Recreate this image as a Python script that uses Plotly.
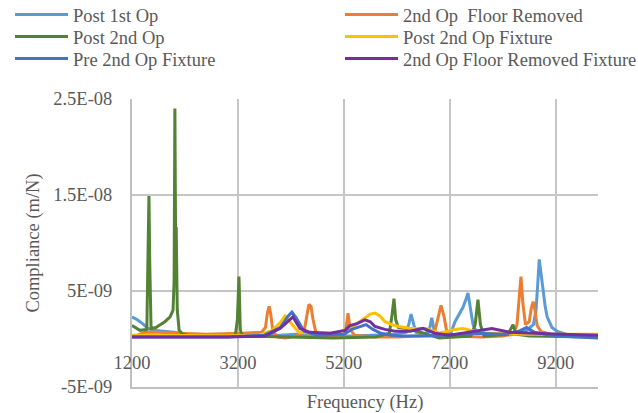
import plotly.graph_objects as go

# Frequency (Hz) and compliance values (in units of 1E-09 m/N)
F_POST1 = [1200, 1300, 1400, 1500, 1600, 1800, 2000, 2200, 2600, 3000, 3600, 4000, 4300, 4600, 5000, 5400,
           5800, 6200, 6380, 6430, 6470, 6510, 6560, 6700, 6810, 6860, 6910, 7000, 7200, 7300, 7390, 7450,
           7510, 7545, 7590, 7640, 7700, 8000, 8400, 8650, 8780, 8830, 8865, 8890, 8920, 8960, 9000, 9040,
           9130, 9230, 9400, 9700, 10000]
C_POST1 = [2.3, 2.0, 1.6, 1.1, 0.9, 0.8, 0.7, 0.5, 0.35, 0.3, 0.3, 0.4, 0.5, 0.4, 0.3, 0.3,
           0.4, 0.5, 0.7, 1.6, 2.6, 1.6, 0.7, 0.5, 0.8, 2.2, 0.8, 0.4, 0.3, 1.8, 2.8, 3.3,
           4.2, 4.8, 3.2, 1.5, 0.8, 0.4, 0.5, 0.9, 1.5, 3.0, 6.0, 8.3, 7.0, 5.0, 3.5, 2.3,
           1.2, 0.8, 0.5, 0.4, 0.35]

F_FLOOR = [1200, 1300, 1450, 1700, 2100, 2600, 3300, 3650, 3720, 3760, 3790, 3820, 3860, 3950, 4100, 4300,
           4450, 4500, 4540, 4580, 4620, 4680, 4800, 5100, 5230, 5280, 5320, 5400, 5800, 6200, 6600, 6900,
           6970, 7035, 7090, 7150, 7300, 7800, 8200, 8400, 8470, 8510, 8545, 8580, 8630, 8700, 8740, 8775,
           8810, 8850, 8920, 9100, 9500, 10000]
C_FLOOR = [0.3, 0.4, 0.7, 0.7, 0.6, 0.5, 0.6, 0.7, 1.2, 2.8, 3.4, 2.6, 0.8, 0.2, 0.1, 0.3,
           0.8, 2.5, 3.6, 3.4, 2.0, 0.5, 0.3, 0.3, 0.6, 2.7, 1.0, 0.4, 0.2, 0.2, 0.3, 0.4,
           2.0, 3.5, 2.4, 0.6, 0.3, 0.2, 0.3, 0.5, 1.5, 3.8, 6.5, 3.8, 1.5, 1.8, 3.2, 3.9,
           3.0, 1.4, 0.8, 0.5, 0.4, 0.3]

F_POST2 = [1200, 1350, 1480, 1505, 1520, 1535, 1560, 1650, 1820, 1920, 1975, 1995, 2010, 2022, 2035, 2055,
           2090, 2160, 2300, 3150, 3190, 3220, 3245, 3280, 4000, 5000, 5800, 6060, 6110, 6147, 6180, 6230,
           6400, 6600, 7000, 7600, 7680, 7733, 7780, 7850, 8300, 8395, 8450, 8700, 10000]
C_POST2 = [1.4, 0.9, 1.0, 8.0, 14.9, 8.0, 1.1, 1.2, 1.8, 2.3, 3.0, 6.0, 24.0, 11.5, 11.5, 3.0,
           0.9, 0.5, 0.3, 0.3, 2.0, 6.5, 1.0, 0.3, 0.2, 0.1, 0.2, 0.6, 2.5, 4.2, 2.0, 1.2,
           1.1, 0.8, 0.1, 0.3, 1.5, 4.1, 1.5, 0.3, 0.5, 1.5, 0.5, 0.3, 0.2]

F_POST2FIX = [1200, 2000, 3000, 3600, 3850, 4000, 4090, 4180, 4350, 4600, 5000, 5200, 5400, 5550, 5700, 5790,
              5880, 5980, 6150, 6450, 6750, 7000, 7300, 7450, 7600, 7900, 8200, 8600, 9000, 9400, 10000]
C_POST2FIX = [0.4, 0.35, 0.35, 0.4, 0.9, 1.7, 2.4, 1.8, 0.7, 0.6, 0.6, 0.9, 1.4, 2.0, 2.6, 2.7,
              2.4, 1.8, 1.4, 1.1, 1.1, 0.6, 1.0, 1.1, 0.9, 0.6, 0.6, 0.5, 0.5, 0.5, 0.5]

F_PRE2FIX = [1200, 2000, 3000, 3700, 4000, 4150, 4220, 4300, 4450, 4700, 5200, 5350, 5500, 5620, 5750, 5900,
             6100, 6300, 6800, 7300, 7700, 8200, 8500, 8650, 8800, 9200, 10000]
C_PRE2FIX = [0.2, 0.2, 0.2, 0.4, 1.2, 2.4, 2.8, 2.2, 0.8, 0.4, 0.5, 1.0, 1.3, 1.5, 1.0, 0.6,
             0.4, 0.3, 0.3, 0.5, 0.6, 0.5, 0.8, 1.2, 0.7, 0.3, 0.1]

F_FLOORFIX = [1200, 2000, 3000, 3710, 3995, 4120, 4240, 4372, 4561, 4939, 5222, 5317, 5450, 5600, 5700, 5788,
              5977, 6166, 6450, 6694, 6920, 7200, 7583, 7800, 7996, 8337, 8715, 9280, 10000]
C_FLOORFIX = [0.2, 0.2, 0.2, 0.3, 1.1, 1.7, 2.3, 1.1, 0.7, 0.6, 0.9, 1.4, 1.6, 2.0, 1.8, 1.3,
              1.0, 0.8, 0.8, 1.1, 0.6, 0.4, 0.7, 0.9, 1.1, 0.7, 0.6, 0.5, 0.4]

SERIES_NAMES = ["Post 1st Op", "2nd Op  Floor Removed", "Post 2nd Op", "Post 2nd Op Fixture",
                "Pre 2nd Op Fixture", "2nd Op Floor Removed Fixture"]
SERIES_F = [F_POST1, F_FLOOR, F_POST2, F_POST2FIX, F_PRE2FIX, F_FLOORFIX]
SERIES_C = [C_POST1, C_FLOOR, C_POST2, C_POST2FIX, C_PRE2FIX, C_FLOORFIX]
SERIES_COLORS = ["#5B9BD5", "#ED7D31", "#548235", "#FFC000", "#4472C4", "#7030A0"]

X_TICKS = [1200, 3200, 5200, 7200, 9200]
X_TICK_LABELS = ["1200", "3200", "5200", "7200", "9200"]
Y_TICKS = [-5, 5, 15, 25]
Y_TICK_LABELS = ["-5E-09", "5E-09", "1.5E-08", "2.5E-08"]
X_RANGE = [1200, 10000]
Y_RANGE = [-5, 25]

FONT = "Liberation Serif, Times New Roman, serif"
FS = 18.5
TXT = "#595959"
GRID = "#c6c6c6"

W, H = 638, 413
ML, MR, MT, MB = 132, 40, 99, 26

# legend slot positions (pixels): two columns, three rows, filled row by row
LEG_COL_X = [10, 340]
LEG_ROW_Y = [15, 37, 59]

fig = go.Figure()
layout_legends = {}
for i, (name, fx, cy, color) in enumerate(zip(SERIES_NAMES, SERIES_F, SERIES_C, SERIES_COLORS)):
    lid = "legend" if i == 0 else f"legend{i + 1}"
    fig.add_trace(go.Scatter(x=fx, y=cy, name=name, mode="lines",
                             line=dict(color=color, width=3), legend=lid))
    layout_legends[lid] = dict(
        xref="container", yref="container",
        x=LEG_COL_X[i % 2] / W, y=1 - LEG_ROW_Y[i // 2] / H,
        xanchor="left", yanchor="middle", orientation="h", itemwidth=53,
        bgcolor="rgba(0,0,0,0)", borderwidth=0,
        font=dict(family=FONT, size=FS, color=TXT))

# invisible helper trace so the label axis (x2) is rendered
fig.add_trace(go.Scatter(x=[X_RANGE[0]], y=[0], xaxis="x2", showlegend=False,
                         hoverinfo="skip", mode="markers", marker=dict(opacity=0, size=1)))

x2_pos = (0 - Y_RANGE[0]) / (Y_RANGE[1] - Y_RANGE[0])

fig.update_layout(
    width=W, height=H,
    margin=dict(l=ML, r=MR, t=MT, b=MB),
    paper_bgcolor="white", plot_bgcolor="white",
    font=dict(family=FONT, size=FS, color=TXT),
    xaxis=dict(range=X_RANGE, autorange=False, tickvals=X_TICKS, showticklabels=False, showgrid=True,
               gridcolor=GRID, gridwidth=1.5, showline=True, linecolor="#bfbfbf", linewidth=2,
               zeroline=False, ticks="", automargin=False,
               title=dict(text="Frequency (Hz)", standoff=7, font=dict(size=FS, color=TXT))),
    xaxis2=dict(overlaying="x", anchor="free", position=x2_pos, range=X_RANGE, autorange=False,
                tickvals=X_TICKS, ticktext=X_TICK_LABELS, showgrid=False, showline=False,
                zeroline=False, ticks="", ticklabelstandoff=10, side="bottom", automargin=False,
                tickfont=dict(family=FONT, size=FS, color=TXT)),
    yaxis=dict(range=Y_RANGE, autorange=False, tickvals=Y_TICKS, ticktext=Y_TICK_LABELS, showgrid=True,
               gridcolor=GRID, gridwidth=1.5, showline=True, linecolor="#bfbfbf", linewidth=2,
               zeroline=False, ticks="", ticklabelstandoff=14, automargin=False,
               tickfont=dict(family=FONT, size=FS, color=TXT),
               title=dict(text="Compliance (m/N)", standoff=9, font=dict(size=FS, color=TXT))),
    showlegend=True,
    **layout_legends,
)

fig.write_html("out.html", config={"displayModeBar": False},
               post_script="document.body.style.margin='0';")
